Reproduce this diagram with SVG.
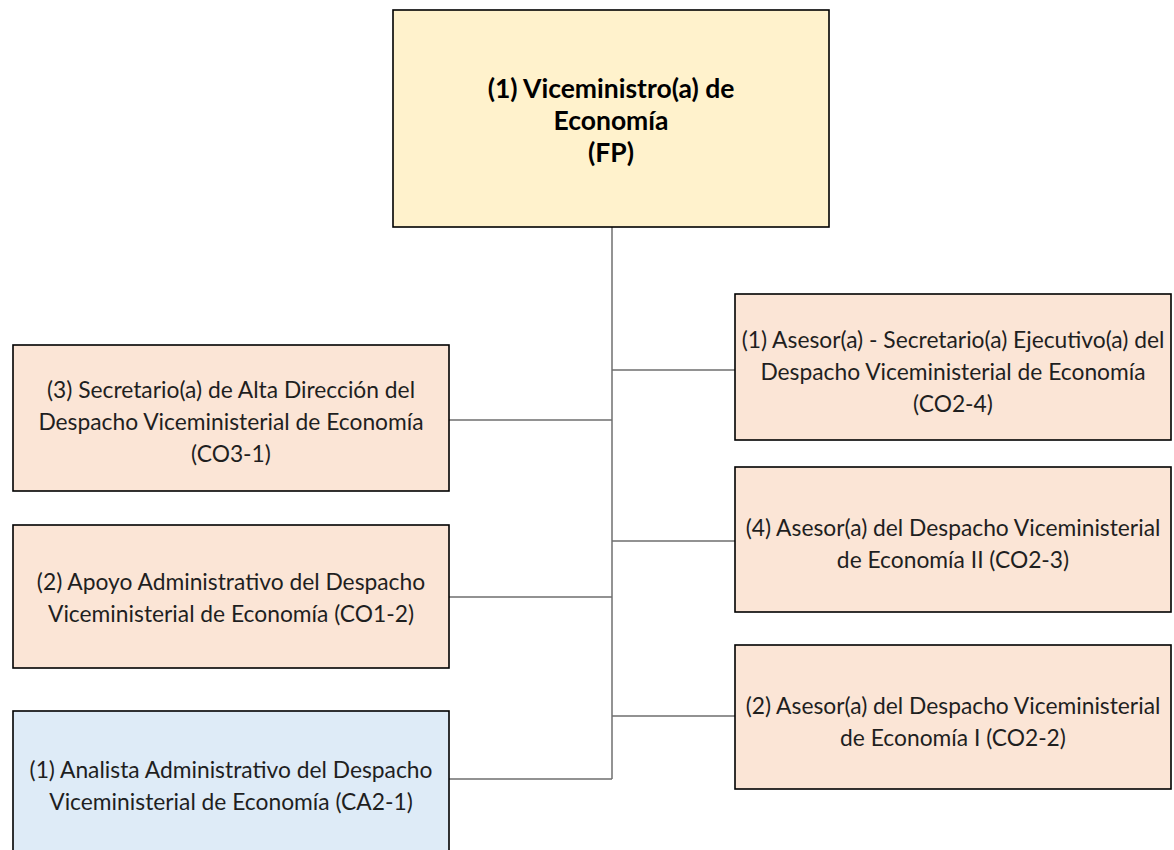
<svg xmlns="http://www.w3.org/2000/svg" width="1174" height="850" viewBox="0 0 1174 850">
<style>
.box{stroke:#000;stroke-width:1.6}
.top{fill:#FFF2CC}
.peach{fill:#FBE5D6}
.blue{fill:#DEEBF7}
.t{font-family:Lato,"Liberation Sans",sans-serif;font-size:22.8px;fill:#1f1f1f;text-anchor:middle}
.tb{font-family:Lato,"Liberation Sans",sans-serif;font-size:26.5px;font-weight:bold;fill:#000;text-anchor:middle}
.c{stroke:#6f6f6f;stroke-width:1.5;fill:none}
</style>
<rect width="1174" height="850" fill="#fff"/>
<g id="connectors">
<path class="c" d="M612 227V779"/>
<path class="c" d="M449 420H612M449 597H612M449 779H612"/>
<path class="c" d="M612 370H735M612 541H735M612 716H735"/>
</g>
<g id="n-vice">
<rect class="box top" x="393" y="10" width="436" height="217"/>
<text class="tb" x="611" y="98">(1) Viceministro(a) de</text>
<text class="tb" x="611" y="130">Economía</text>
<text class="tb" x="611" y="162">(FP)</text>
</g>
<g id="n-sec">
<rect class="box peach" x="13" y="345" width="436" height="146"/>
<text class="t" x="231" y="398">(3) Secretario(a) de Alta Dirección del</text>
<text class="t" x="231" y="430">Despacho Viceministerial de Economía</text>
<text class="t" x="231" y="462">(CO3-1)</text>
</g>
<g id="n-apoyo">
<rect class="box peach" x="13" y="525" width="436" height="143"/>
<text class="t" x="231" y="590">(2) Apoyo Administrativo del Despacho</text>
<text class="t" x="231" y="622">Viceministerial de Economía (CO1-2)</text>
</g>
<g id="n-analista">
<rect class="box blue" x="13" y="711" width="436" height="150"/>
<text class="t" x="231" y="778">(1) Analista Administrativo del Despacho</text>
<text class="t" x="231" y="810">Viceministerial de Economía (CA2-1)</text>
</g>
<g id="n-asesor-sec">
<rect class="box peach" x="735" y="294" width="436" height="146"/>
<text class="t" x="953" y="348">(1) Asesor(a) - Secretario(a) Ejecutivo(a) del</text>
<text class="t" x="953" y="380">Despacho Viceministerial de Economía</text>
<text class="t" x="953" y="412">(CO2-4)</text>
</g>
<g id="n-asesor2">
<rect class="box peach" x="735" y="467" width="436" height="145"/>
<text class="t" x="953" y="536">(4) Asesor(a) del Despacho Viceministerial</text>
<text class="t" x="953" y="568">de Economía II (CO2-3)</text>
</g>
<g id="n-asesor1">
<rect class="box peach" x="735" y="645" width="436" height="144"/>
<text class="t" x="953" y="714">(2) Asesor(a) del Despacho Viceministerial</text>
<text class="t" x="953" y="746">de Economía I (CO2-2)</text>
</g>
</svg>
